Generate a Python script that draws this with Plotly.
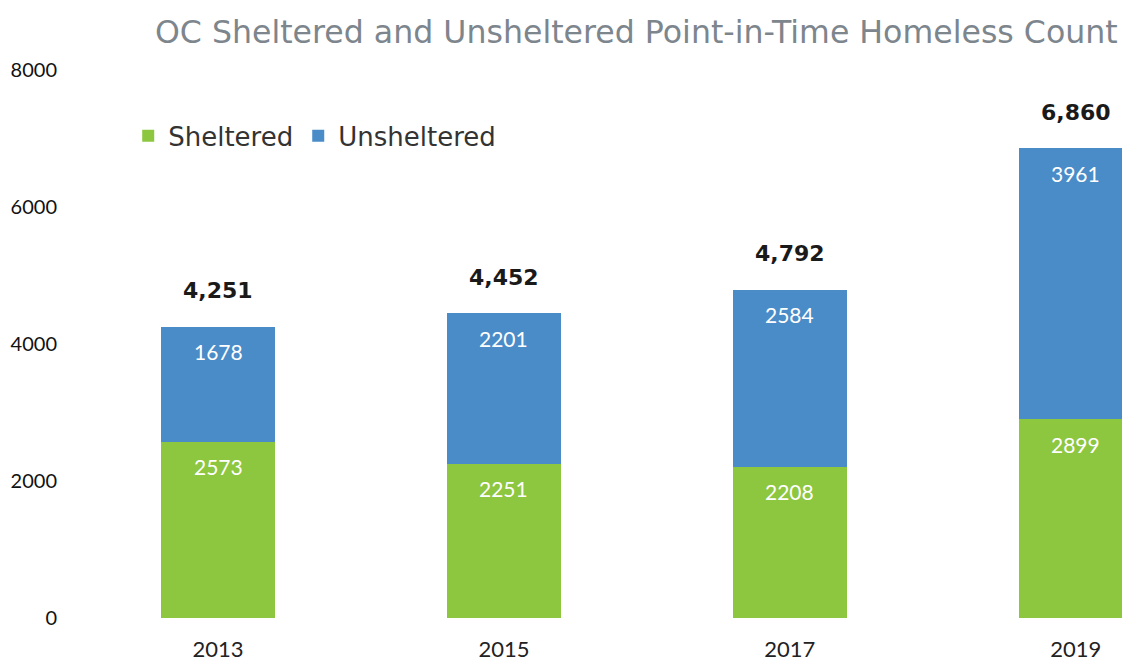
import plotly.graph_objects as go

years = ["2013", "2015", "2017", "2019"]
sheltered = [2573, 2251, 2208, 2899]
unsheltered = [1678, 2201, 2584, 3961]
totals = [4251, 4452, 4792, 6860]
total_labels = ["4,251", "4,452", "4,792", "6,860"]
y_ticks = [0, 2000, 4000, 6000, 8000]

GREEN = "#8DC63F"
BLUE = "#4A8CC8"
FONT = "Lato"

fig = go.Figure()
fig.add_trace(go.Bar(x=years, y=sheltered, name="Sheltered", marker_color=GREEN,
                     marker_line_width=0, width=0.4))
fig.add_trace(go.Bar(x=years, y=unsheltered, name="Unsheltered", marker_color=BLUE,
                     marker_line_width=0, width=0.4))

for i in range(len(years)):
    s = sheltered[i]
    u = unsheltered[i]
    fig.add_annotation(x=i, y=s, xref="x", yref="y", text=str(s), showarrow=False,
                       yshift=-25, font=dict(size=21, color="white", family=FONT))
    fig.add_annotation(x=i, y=s + u, xref="x", yref="y", text=str(u), showarrow=False,
                       yshift=-25, font=dict(size=21, color="white", family=FONT))
    fig.add_annotation(x=i, y=totals[i], xref="x", yref="y", text="<b>" + total_labels[i] + "</b>",
                       showarrow=False, yshift=36,
                       font=dict(size=22, color="#1a1a1a", family="DejaVu Sans"))

fig.update_layout(
    barmode="stack",
    width=1122, height=654,
    margin=dict(l=54, r=0, t=62, b=44),
    paper_bgcolor="white", plot_bgcolor="white",
    title=dict(text="OC Sheltered and Unsheltered Point-in-Time Homeless Count",
               x=0.56, xanchor="center", y=0.963, yanchor="middle",
               font=dict(size=31.6, color="#7d858d", family="DejaVu Sans")),
    legend=dict(orientation="h", x=0.062, xanchor="left", y=0.88, yanchor="middle",
                font=dict(size=26, color="#333333", family="DejaVu Sans"),
                itemwidth=30, traceorder="normal", bgcolor="rgba(0,0,0,0)"),
    showlegend=True,
)
fig.update_xaxes(type="category", range=[-0.546, 3.19], showline=False, showgrid=False,
                 automargin=False,
                 ticks="outside", ticklen=12, tickcolor="white",
                 tickfont=dict(size=22, color="#222222", family=FONT))
fig.update_yaxes(range=[0, 8000], tickvals=y_ticks, showgrid=False, zeroline=False,
                 automargin=False, ticks="", ticklabelstandoff=4,
                 showline=False, tickfont=dict(size=20, color="#111111", family=FONT))

fig.write_html("out.html")
